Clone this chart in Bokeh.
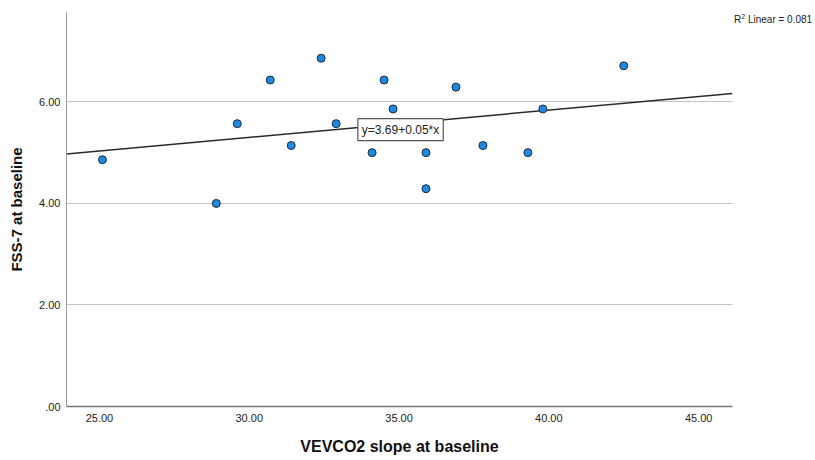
import numpy as np
from bokeh.plotting import figure
from bokeh.models import FixedTicker, Label, Range1d, ColumnDataSource, Div
from bokeh.layouts import row
from bokeh.embed import file_html
from bokeh.resources import INLINE

# ---- data ----
vevco2_slope = [25.1, 28.9, 29.6, 30.7, 31.4, 32.4, 32.9, 34.1, 34.5, 34.8,
                35.9, 35.9, 36.9, 37.8, 39.3, 39.8, 42.5]
fss7 = [4.86, 4.00, 5.57, 6.43, 5.14, 6.86, 5.57, 5.00, 6.43, 5.86,
        5.00, 4.29, 6.29, 5.14, 5.00, 5.86, 6.71]
x_ticks = [25, 30, 35, 40, 45]
x_tick_labels = ["25.00", "30.00", "35.00", "40.00", "45.00"]
y_ticks = [0, 2, 4, 6]
y_tick_labels = [".00", "2.00", "4.00", "6.00"]
fit_label = "y=3.69+0.05*x"
r2_value = "0.081"
x_title = "VEVCO2 slope at baseline"
y_title = "FSS-7 at baseline"

FONT = "Liberation Sans"

x0, x1 = 23.9, 46.13
y0, y1 = 0.0, 7.76

p = figure(width=734, height=460, output_backend="svg", toolbar_location=None,
           x_range=Range1d(x0, x1), y_range=Range1d(y0, y1),
           min_border_left=66, min_border_right=2, min_border_top=12,
           min_border_bottom=54)
p.outline_line_color = None
p.background_fill_color = "white"
p.border_fill_color = "white"

# axes
p.xaxis.ticker = FixedTicker(ticks=x_ticks)
p.xaxis.major_label_overrides = {t: l for t, l in zip(x_ticks, x_tick_labels)}
p.yaxis.ticker = FixedTicker(ticks=y_ticks)
p.yaxis.major_label_overrides = {t: l for t, l in zip(y_ticks, y_tick_labels)}
for ax in (p.xaxis, p.yaxis):
    ax.major_tick_line_color = None
    ax.minor_tick_line_color = None
    ax.major_tick_out = 0
    ax.major_tick_in = 0
    ax.major_label_text_font = FONT
    ax.major_label_text_font_size = "11px"
    ax.major_label_text_color = "#222222"
    ax.axis_label_text_font = FONT
    ax.axis_label_text_font_style = "bold"
    ax.axis_label_text_color = "#111111"
p.xaxis.axis_line_color = "#777777"
p.xaxis.axis_line_width = 1.5
p.yaxis.axis_line_color = "#999999"
p.yaxis.axis_line_width = 1
p.xaxis.axis_label = x_title
p.yaxis.axis_label = y_title
p.xaxis.axis_label_text_font_size = "16px"
p.yaxis.axis_label_text_font_size = "15px"
p.xaxis.major_label_standoff = 7
p.yaxis.major_label_standoff = 6
p.xaxis.axis_label_standoff = 13
p.yaxis.axis_label_standoff = 11

p.xgrid.grid_line_color = None
p.ygrid.ticker = FixedTicker(ticks=y_ticks[1:])
p.ygrid.grid_line_color = "#c4c4c4"
p.ygrid.grid_line_width = 1.2

# regression line computed from the data
slope, intercept = np.polyfit(vevco2_slope, fss7, 1)
lx = [x0, x1]
ly = [intercept + slope * v for v in lx]
p.line(lx, ly, line_color="#2b2b2b", line_width=1.5)

src = ColumnDataSource(dict(x=vevco2_slope, y=fss7))
p.scatter("x", "y", source=src, size=8, fill_color="#1f88e0",
          line_color="#1c2a3a", line_width=1)

# fit label box
xm = 35.05
p.add_layout(Label(x=xm, y=intercept + slope * xm - 0.12, text=fit_label,
                   text_font=FONT, text_font_size="12px", text_color="#222222",
                   text_align="center", text_baseline="middle",
                   background_fill_color="white",
                   border_line_color="#555555", border_line_width=1.2,
                   padding=4))

r2 = Div(text="R<sup style='font-size:7px'>2</sup> Linear = " + r2_value,
         width=81, height=30, margin=(12, 0, 0, 0),
         styles={"font-family": FONT, "font-size": "10px", "color": "#222222",
                 "white-space": "nowrap"})

layout = row(p, r2, spacing=0)
open("out.html", "w").write(file_html(layout, INLINE))
